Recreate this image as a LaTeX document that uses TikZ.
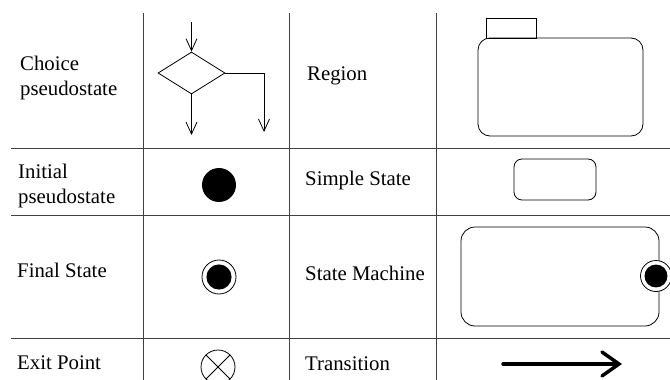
\documentclass[tikz,border=0pt]{standalone}
\usepackage{fontspec}
\setmainfont{Liberation Serif}
\usepackage{tikz}
\usetikzlibrary{arrows.meta,shapes.geometric}
\pgfdeclarelayer{bg}
\pgfsetlayers{bg,main}
\tikzset{
  lbl/.style={anchor=base west, inner sep=0pt, align=left, font=\fontsize{20.8}{24.5}\selectfont},
  grid/.style={draw=black!75, line width=0.9pt},
  thin/.style={line width=0.8pt},
  barb/.style={thin, -{Straight Barb[length=12pt,width=11pt]}},
  dot/.style={circle, fill=black, inner sep=0pt, minimum size=#1},
  finalst/.style={circle, draw, thin, fill=white, inner sep=0pt, minimum size=#1,
    path picture={\fill[black] (path picture bounding box.center) circle (#1*0.37);}},
  exitpt/.style={circle, draw, thin, inner sep=0pt, minimum size=34pt,
    path picture={\draw[thin] (path picture bounding box.north west) -- (path picture bounding box.south east)
      (path picture bounding box.north east) -- (path picture bounding box.south west);}},
  stbox/.style={draw, thin, rectangle, inner sep=0pt}
}
\begin{document}
\begin{tikzpicture}[x=1pt, y=-1pt]
        \useasboundingbox (0,0) rectangle (670,380);
        % labels
        \node (tchoice) [lbl] at (20,95) {Choice\\pseudostate};
        \node (tinit) [lbl] at (18,203) {Initial\\pseudostate};
        \node (tfinal) [lbl] at (17,277) {Final State};
        \node (texit) [lbl] at (17,369) {Exit Point};
        \node (tregion) [lbl] at (307,80) {Region};
        \node (tsimple) [lbl] at (305,185) {Simple State};
        \node (tmachine) [lbl] at (305,280) {State Machine};
        \node (ttrans) [lbl] at (305,370) {Transition};
        % symbols
        \node (ch) [diamond, draw, thin, inner sep=0pt, minimum width=67pt, minimum height=42pt] at (191.5,73) {};
        \coordinate (cin) at (191.5,22);
        \coordinate (cout1) at (191.5,135);
        \coordinate (cout2) at (264,132);
        \node (init) [dot=34pt] at (219,185) {};
        \node (final) [finalst=34pt] at (219,277) {};
        \node (exit) [exitpt] at (218,367) {};
        \node (tab) [stbox, minimum width=50pt, minimum height=20pt] at (511,28) {};
        \node (region) [stbox, rounded corners=12pt, minimum width=165pt, minimum height=98pt] at (560.5,87) {};
        \node (simple) [stbox, rounded corners=8pt, minimum width=82pt, minimum height=41pt] at (555,179.5) {};
        \node (machine) [stbox, rounded corners=14pt, minimum width=198pt, minimum height=99pt] at (560,276.5) {};
        \node (mexit) [finalst=31pt] at (656,276) {};
        \coordinate (ta) at (503,364);
        \coordinate (tb) at (622,364);
        \draw [barb] (cin) -- (ch.north);
        \draw [barb] (ch.south) -- (cout1);
        \draw [barb] (ch.east) -| (cout2);
        \draw [line width=3.5pt, line cap=round, -{Straight Barb[length=17pt,width=24pt,line cap=round]}] (ta) -- (tb);
        \begin{pgfonlayer}{bg}
                \foreach \x in {143,289,436}
                        \draw [grid] (\x,13) -- (\x,380);
                \foreach \y in {148,215,338}
                        \draw [grid] (11,\y) -- (670,\y);
        \end{pgfonlayer}
\end{tikzpicture}
\end{document}
